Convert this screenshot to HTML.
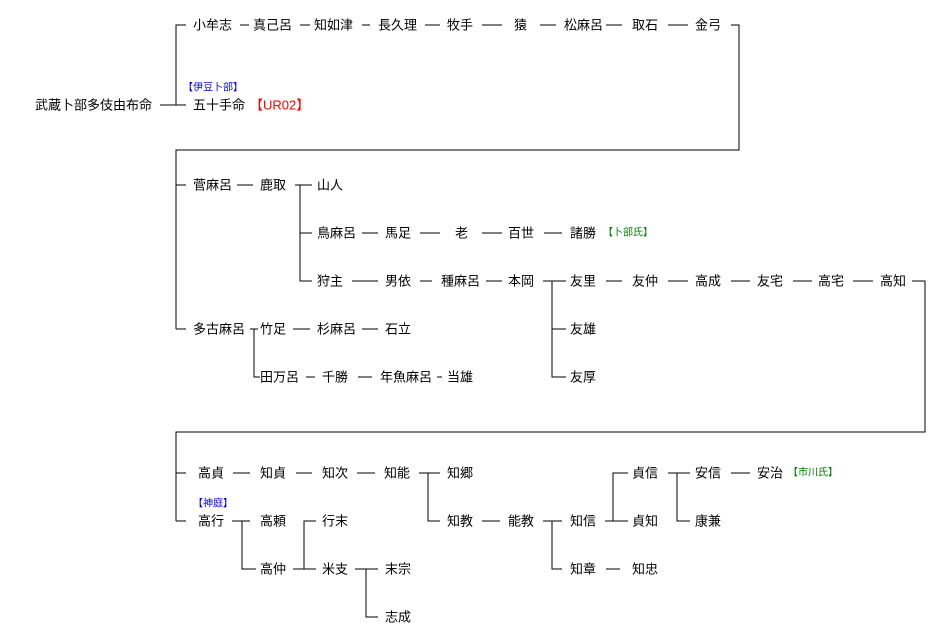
<!DOCTYPE html>
<html><head><meta charset="utf-8"><style>
html,body{margin:0;padding:0;background:#fff;}
svg{display:block;}
text{font-family:"Liberation Sans","Noto Sans CJK JP",sans-serif;font-size:13px;fill:#000;dominant-baseline:central;}
.s{font-size:10px;}
.b{fill:#0000ff;}
.r{fill:#ff0000;}
.g{fill:#008000;}
line,polyline{stroke:#000;stroke-width:1;fill:none;shape-rendering:crispEdges;}
</style></head><body>
<svg width="932" height="640" xmlns="http://www.w3.org/2000/svg">
<!-- Section 1 -->
<polyline points="186,25 176,25 176,105"/>
<line x1="160" y1="105" x2="186" y2="105"/>
<text x="35" y="105">武蔵卜部多伎由布命</text>
<text x="193" y="25">小牟志</text>
<line x1="240" y1="25" x2="249" y2="25"/>
<text x="253" y="25">真己呂</text>
<line x1="300" y1="25" x2="310" y2="25"/>
<text x="314" y="25">知如津</text>
<line x1="362" y1="25" x2="370" y2="25"/>
<text x="378" y="25">長久理</text>
<line x1="425" y1="25" x2="440" y2="25"/>
<text x="447" y="25">牧手</text>
<line x1="482" y1="25" x2="502" y2="25"/>
<text x="514" y="25">猿</text>
<line x1="540" y1="25" x2="556" y2="25"/>
<text x="564" y="25">松麻呂</text>
<line x1="606" y1="25" x2="622" y2="25"/>
<text x="632" y="25">取石</text>
<line x1="668" y1="25" x2="688" y2="25"/>
<text x="695" y="25">金弓</text>
<polyline points="731,25 739,25 739,150 176,150 176,329"/>
<text x="183" y="88" class="s b">【伊豆卜部】</text>
<text x="193" y="105">五十手命</text>
<text x="250" y="105" class="r">【UR02】</text>

<!-- Section 2 -->
<line x1="176" y1="185" x2="186" y2="185"/>
<line x1="176" y1="329" x2="186" y2="329"/>
<text x="193" y="185">菅麻呂</text>
<line x1="237" y1="185" x2="253" y2="185"/>
<text x="260" y="185">鹿取</text>
<line x1="295" y1="185" x2="312" y2="185"/>
<polyline points="312,233 300,233"/>
<polyline points="300,185 300,281 312,281"/>
<text x="317" y="185">山人</text>
<text x="317" y="233">鳥麻呂</text>
<line x1="362" y1="233" x2="378" y2="233"/>
<text x="385" y="233">馬足</text>
<line x1="420" y1="233" x2="440" y2="233"/>
<text x="455" y="233">老</text>
<line x1="482" y1="233" x2="502" y2="233"/>
<text x="508" y="233">百世</text>
<line x1="544" y1="233" x2="562" y2="233"/>
<text x="570" y="233">諸勝</text>
<text x="603" y="233" class="s g">【卜部氏】</text>
<text x="317" y="281">狩主</text>
<line x1="352" y1="281" x2="378" y2="281"/>
<text x="385" y="281">男依</text>
<line x1="420" y1="281" x2="432" y2="281"/>
<text x="441" y="281">種麻呂</text>
<line x1="486" y1="281" x2="502" y2="281"/>
<text x="508" y="281">本岡</text>
<line x1="543" y1="281" x2="566" y2="281"/>
<polyline points="552,281 552,377 566,377"/>
<line x1="552" y1="329" x2="566" y2="329"/>
<text x="570" y="281">友里</text>
<text x="570" y="329">友雄</text>
<text x="570" y="377">友厚</text>
<line x1="606" y1="281" x2="622" y2="281"/>
<text x="632" y="281">友仲</text>
<line x1="668" y1="281" x2="688" y2="281"/>
<text x="695" y="281">高成</text>
<line x1="731" y1="281" x2="750" y2="281"/>
<text x="757" y="281">友宅</text>
<line x1="793" y1="281" x2="812" y2="281"/>
<text x="818" y="281">高宅</text>
<line x1="853" y1="281" x2="873" y2="281"/>
<text x="880" y="281">高知</text>
<polyline points="912,281 925,281 925,432 176,432 176,521"/>
<text x="193" y="329">多古麻呂</text>
<line x1="250" y1="329" x2="258" y2="329"/>
<polyline points="254,329 254,377 260,377"/>
<text x="260" y="329">竹足</text>
<line x1="293" y1="329" x2="310" y2="329"/>
<text x="317" y="329">杉麻呂</text>
<line x1="362" y1="329" x2="378" y2="329"/>
<text x="385" y="329">石立</text>
<text x="260" y="377">田万呂</text>
<line x1="306" y1="377" x2="315" y2="377"/>
<text x="322" y="377">千勝</text>
<line x1="358" y1="377" x2="372" y2="377"/>
<text x="380" y="377">年魚麻呂</text>
<line x1="437" y1="377" x2="442" y2="377"/>
<text x="447" y="377">当雄</text>

<!-- Section 3 -->
<line x1="176" y1="473" x2="186" y2="473"/>
<line x1="176" y1="521" x2="186" y2="521"/>
<text x="198" y="473">高貞</text>
<line x1="233" y1="473" x2="250" y2="473"/>
<text x="260" y="473">知貞</text>
<line x1="296" y1="473" x2="312" y2="473"/>
<text x="322" y="473">知次</text>
<line x1="357" y1="473" x2="375" y2="473"/>
<text x="384" y="473">知能</text>
<line x1="419" y1="473" x2="440" y2="473"/>
<polyline points="428,473 428,521 440,521"/>
<text x="447" y="473">知郷</text>
<text x="447" y="521">知教</text>
<line x1="482" y1="521" x2="500" y2="521"/>
<text x="508" y="521">能教</text>
<line x1="543" y1="521" x2="562" y2="521"/>
<polyline points="552,521 552,569 562,569"/>
<text x="570" y="521">知信</text>
<line x1="605" y1="521" x2="628" y2="521"/>
<polyline points="613,521 613,473 628,473"/>
<text x="632" y="473">貞信</text>
<text x="632" y="521">貞知</text>
<line x1="668" y1="473" x2="690" y2="473"/>
<polyline points="677,473 677,521 690,521"/>
<text x="695" y="473">安信</text>
<line x1="731" y1="473" x2="750" y2="473"/>
<text x="757" y="473">安治</text>
<text x="788" y="473" class="s g">【市川氏】</text>
<text x="695" y="521">康兼</text>
<text x="570" y="569">知章</text>
<line x1="606" y1="569" x2="620" y2="569"/>
<text x="632" y="569">知忠</text>
<text x="193" y="504" class="s b">【神庭】</text>
<text x="198" y="521">高行</text>
<line x1="232" y1="521" x2="250" y2="521"/>
<polyline points="242,521 242,569 256,569"/>
<text x="260" y="521">高頼</text>
<text x="260" y="569">高仲</text>
<line x1="293" y1="569" x2="316" y2="569"/>
<polyline points="304,569 304,521 316,521"/>
<text x="322" y="521">行末</text>
<text x="322" y="569">米支</text>
<line x1="355" y1="569" x2="378" y2="569"/>
<polyline points="366,569 366,617 378,617"/>
<text x="385" y="569">末宗</text>
<text x="385" y="617">志成</text>
</svg>
</body></html>
